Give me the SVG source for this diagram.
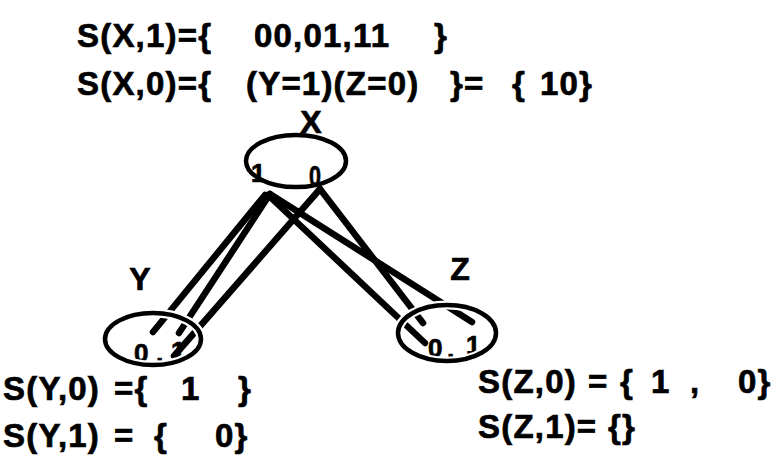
<svg xmlns="http://www.w3.org/2000/svg" width="781" height="456" viewBox="0 0 781 456">
<style>
text{font-family:"Liberation Sans",Arial,sans-serif;font-weight:bold;fill:#000;stroke:#000;stroke-width:0.7px}
.t{font-size:33px;letter-spacing:1.2px}
.lbl{font-size:32px;text-anchor:middle}
.d{font-size:26px}
.ell{fill:none;stroke:#000;stroke-width:4.5}
.halo{fill:none;stroke:#fff;stroke-width:9}
.cn{stroke:#000;stroke-width:6.5;stroke-linecap:round;fill:none}
</style>
<rect width="781" height="456" fill="#fff"/>
<g id="equations-top">
<text class="t" x="77" y="47">S(X,1)={</text>
<text class="t" x="254" y="47">00,01,11</text>
<text class="t" x="434" y="47">}</text>
<text class="t" x="77" y="95">S(X,0)={</text>
<text class="t" x="246" y="95">(Y=1)(Z=0)</text>
<text class="t" x="450" y="95">}=</text>
<text class="t" x="512" y="95">{</text>
<text class="t" x="540" y="95">10}</text>
</g>
<g id="connectors">
<line class="cn" x1="265" y1="195" x2="153" y2="332"/>
<line class="cn" x1="270" y1="194" x2="179" y2="333"/>
<line class="cn" x1="320" y1="189" x2="174" y2="356"/>
<line class="cn" x1="268" y1="195" x2="425" y2="343"/>
<line class="cn" x1="320" y1="189" x2="423" y2="323"/>
<line class="cn" x1="270" y1="194" x2="472" y2="322"/>
</g>
<g id="node-X">
<text class="lbl" x="311" y="133">X</text>
<ellipse class="ell" cx="296" cy="161" rx="50" ry="26"/>
<text class="d" x="251" y="182">1</text>
<text x="309" y="186" font-size="29" textLength="12" lengthAdjust="spacingAndGlyphs">0</text>
</g>
<g id="node-Y">
<text class="lbl" x="140" y="290">Y</text>
<text class="d" x="134" y="362">0</text>
<text class="d" x="156" y="362">,</text>
<text class="d" x="171" y="360">1</text>
<ellipse class="halo" cx="153" cy="339" rx="48" ry="26"/>
<ellipse class="ell" cx="153" cy="339" rx="48" ry="26"/>
</g>
<g id="node-Z">
<text class="lbl" x="460" y="280">Z</text>
<text class="d" x="428" y="357">0</text>
<text class="d" x="447" y="358">,</text>
<text class="d" x="466" y="354">1</text>
<ellipse class="halo" cx="447" cy="333" rx="49" ry="28"/>
<ellipse class="ell" cx="447" cy="333" rx="49" ry="28"/>
</g>
<g id="equations-bottom">
<text class="t" x="3" y="400">S(Y,0)</text>
<text class="t" x="114" y="400">={</text>
<text class="t" x="181" y="400">1</text>
<text class="t" x="238" y="400">}</text>
<text class="t" x="3" y="447">S(Y,1)</text>
<text class="t" x="114" y="447">=</text>
<text class="t" x="154" y="447">{</text>
<text class="t" x="215" y="447">0}</text>
<text class="t" x="478" y="393">S(Z,0)</text>
<text class="t" x="588" y="393">=</text>
<text class="t" x="620" y="393">{</text>
<text class="t" x="651" y="393">1</text>
<text class="t" x="690" y="393">,</text>
<text class="t" x="738" y="393">0}</text>
<text class="t" x="478" y="438">S(Z,1)=</text>
<text class="t" x="608" y="438">{}</text>
</g>
</svg>
